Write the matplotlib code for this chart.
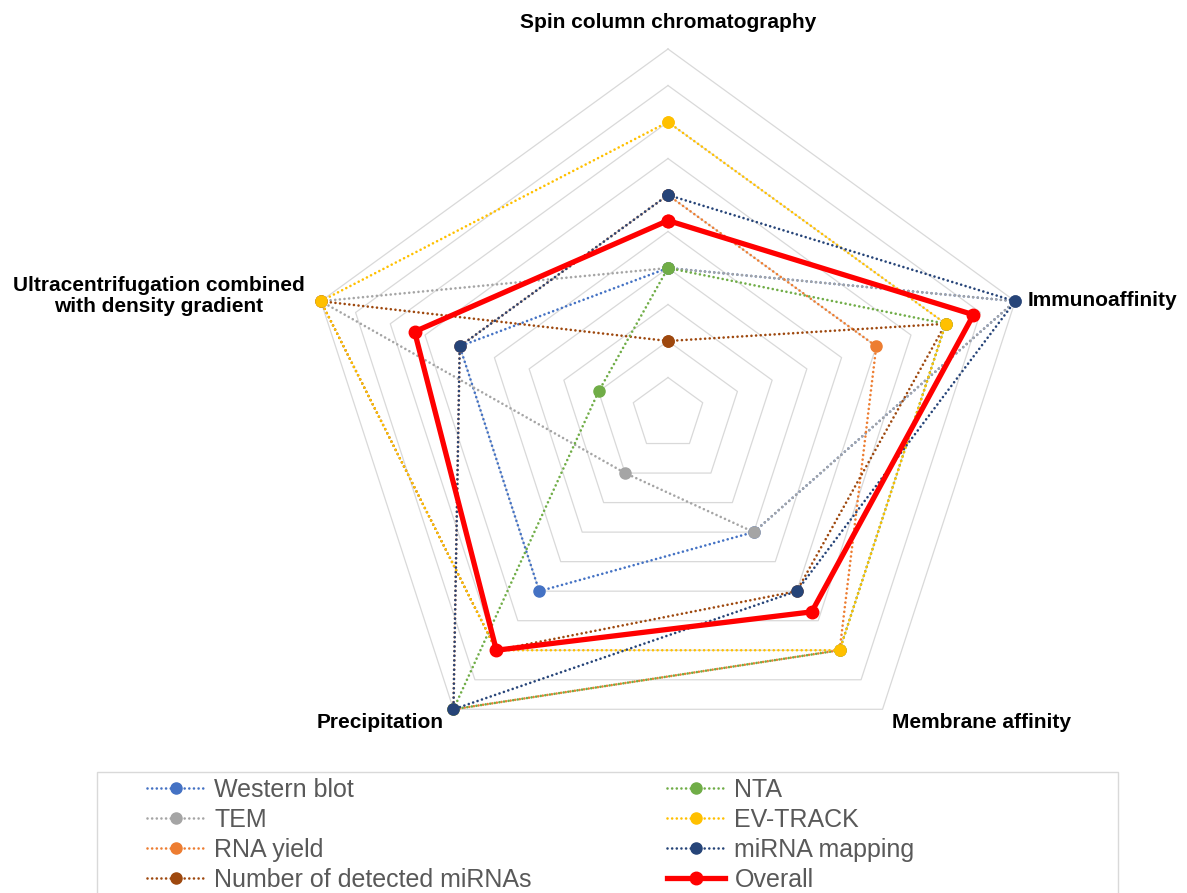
import numpy as np
import matplotlib
matplotlib.use("Agg")
import matplotlib.pyplot as plt
from matplotlib.patches import Rectangle

# ---- data ----
axes_labels = ["Spin column chromatography", "Immunoaffinity", "Membrane affinity",
               "Precipitation", "Ultracentrifugation combined\nwith density gradient"]
series_names = ["Western blot", "TEM", "RNA yield", "Number of detected miRNAs",
                "NTA", "EV-TRACK", "miRNA mapping", "Overall"]
western_blot = [4, 10, 4, 6, 6]
tem = [4, 10, 4, 2, 10]
rna_yield = [6, 6, 8, 10, 6]
n_mirnas = [2, 8, 6, 8, 10]
nta = [4, 8, 8, 10, 2]
ev_track = [8, 8, 8, 8, 10]
mirna_mapping = [6, 10, 6, 10, 6]
overall = [5.3, 8.8, 6.7, 8.0, 7.3]
ring_levels = list(range(1, 11))

colors = ["#4472C4", "#A5A5A5", "#ED7D31", "#9E480E", "#70AD47", "#FFC000", "#264478", "#FF0000"]
values = [western_blot, tem, rna_yield, n_mirnas, nta, ev_track, mirna_mapping, overall]

plt.rcParams['font.family'] = ['Liberation Sans', 'DejaVu Sans']

W, H = 1187, 893
fig = plt.figure(figsize=(W / 100, H / 100), dpi=100)
cx, cy, R = 668, 414, 365
ax = fig.add_axes([(cx - R) / W, (H - cy - R) / H, 2 * R / W, 2 * R / H], projection='polar')
ax.set_theta_offset(np.pi / 2)
ax.set_theta_direction(-1)
ax.set_ylim(0, 10)
ax.grid(False)
ax.set_xticks([])
ax.set_yticks([])
ax.spines['polar'].set_visible(False)
ax.patch.set_visible(False)

n = len(axes_labels)
theta = np.linspace(0, 2 * np.pi, n, endpoint=False)
theta_c = np.append(theta, theta[0])

for r in ring_levels:
    ax.plot(theta_c, [r] * (n + 1), color="#D9D9D9", lw=0.9, zorder=1, clip_on=False)

handles = []
for i, (name, vals, col) in enumerate(zip(series_names, values, colors)):
    v = np.append(vals, vals[0])
    if name == "Overall":
        h, = ax.plot(theta_c, v, color=col, lw=3.8, marker='o', markersize=9,
                     zorder=10, clip_on=False, label=name, solid_joinstyle='miter')
    else:
        h, = ax.plot(theta_c, v, color=col, lw=1.9, linestyle=(0, (0.01, 1.75)),
                     dash_capstyle='round', marker='o', markersize=8,
                     zorder=2 + i, clip_on=False, label=name)
    handles.append(h)

# axis labels
lab_kw = dict(fontsize=15, fontweight='bold', color='black')
fig.text(668 / W, 1 - 22 / H, axes_labels[0], ha='center', va='center', **lab_kw)
fig.text(1028 / W, 1 - 300 / H, axes_labels[1], ha='left', va='center', **lab_kw)
fig.text(981 / W, 1 - 722 / H, axes_labels[2], ha='center', va='center', **lab_kw)
fig.text(380 / W, 1 - 722 / H, axes_labels[3], ha='center', va='center', **lab_kw)
fig.text(159 / W, 1 - 296 / H, axes_labels[4], ha='center', va='center',
         multialignment='center', linespacing=1.1, **lab_kw)

# legend
leg = fig.legend(handles=handles, loc='upper left', bbox_to_anchor=(147 / W, 1 - 778 / H),
                 ncol=2, frameon=False, fontsize=18, borderpad=0, borderaxespad=0,
                 handlelength=2.3, handletextpad=0.4, columnspacing=5.4,
                 labelspacing=0.24, labelcolor='#595959')
fig.add_artist(Rectangle((97 / W, -0.05), (1118 - 97) / W, 0.05 + (893 - 772) / H,
                         transform=fig.transFigure, fill=False, edgecolor='#D9D9D9', lw=1))

fig.savefig("out.png", dpi=100)
